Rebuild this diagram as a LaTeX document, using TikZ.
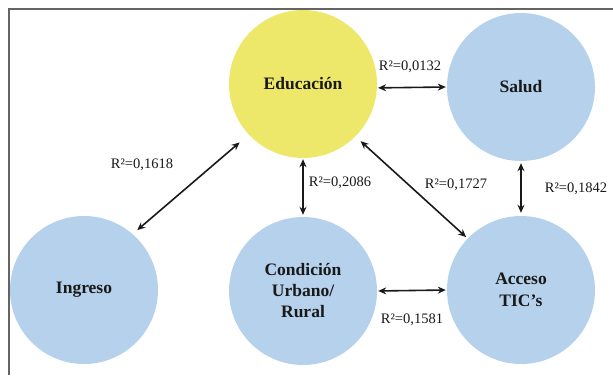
\documentclass[tikz,border=0pt]{standalone}
\usepackage{fontspec}
\setmainfont{Liberation Serif}
\usetikzlibrary{arrows.meta}
\definecolor{eduyel}{RGB}{237,232,106}
\definecolor{circblue}{RGB}{182,209,236}
\definecolor{framegray}{RGB}{100,100,100}
\definecolor{txt}{RGB}{25,25,25}
\tikzset{
  var/.style={circle, minimum size=148pt, inner sep=0pt, fill=circblue, text=txt,
    font=\fontsize{17.5}{22}\selectfont\bfseries, align=center},
  arr/.style={line width=1.6pt, draw=black!90, {Stealth[length=8pt,width=7pt]}-{Stealth[length=8pt,width=7pt]}},
  rlab/.style={text=txt, font=\fontsize{14.5}{17}\selectfont, inner sep=0pt}
}
\begin{document}
\begin{tikzpicture}[x=1pt,y=-1pt]
\useasboundingbox (0,0) rectangle (613,375);
\draw[framegray, line width=1.5pt] (9,375) -- (9,9) -- (613,9);
\node[var, fill=eduyel] (edu) at (303,84) {Educación};
\node[var] (sal) at (521,87) {Salud};
\node[var] (ing) at (84,290) {Ingreso};
\node[var] (cond) at (303,291) {Condición\\[-1pt]Urbano/\\[-1pt]Rural};
\node[var] (acc) at (521,290) {Acceso\\TIC’s};
\draw[arr, shorten <=1pt, shorten >=1pt] (edu.-3) -- (sal.180.7);
\draw[arr, shorten <=6pt, shorten >=12pt] (ing.49.6) -- (edu.223);
\draw[arr, shorten <=1pt, shorten >=2pt] (edu.south) -- (cond.north);
\draw[arr, shorten <=7pt, shorten >=2pt] (edu.-45.5) -- (acc.136.6);
\draw[arr, shorten <=2pt, shorten >=3pt] (sal.south -| acc.north) -- (acc.north);
\draw[arr, shorten <=1pt, shorten >=1pt] (cond.0.8) -- (acc.180);
\node[rlab] (l1) at (410,67) {R²=0,0132};
\node[rlab] (l2) at (142,165) {R²=0,1618};
\node[rlab] (l3) at (340,183) {R²=0,2086};
\node[rlab] (l4) at (456,185) {R²=0,1727};
\node[rlab] (l5) at (576,189) {R²=0,1842};
\node[rlab] (l6) at (412,320) {R²=0,1581};
\end{tikzpicture}
\end{document}
